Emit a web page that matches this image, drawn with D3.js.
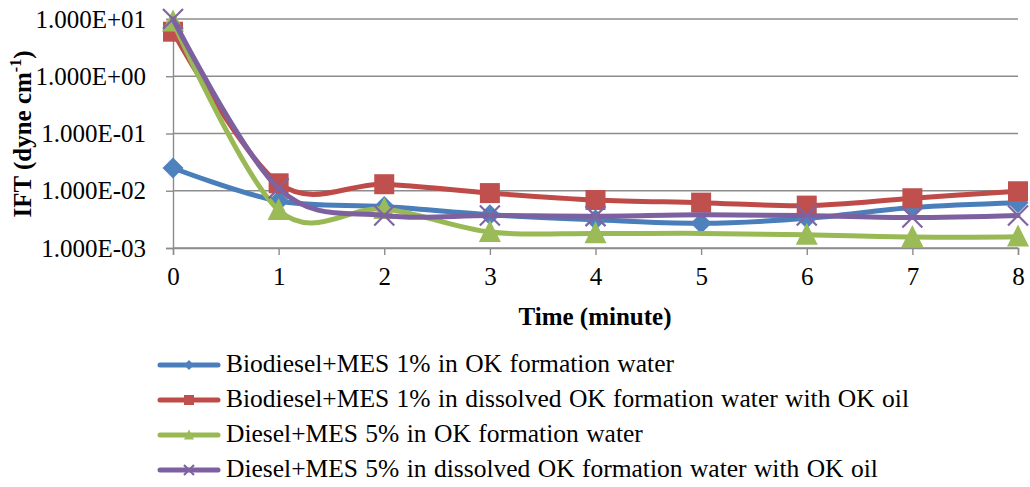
<!DOCTYPE html>
<html>
<head>
<meta charset="utf-8">
<script src="https://cdn.jsdelivr.net/npm/d3@7"></script>
<style>
  html, body { margin: 0; padding: 0; background: #fff; }
  svg { display: block; }
</style>
</head>
<body>
<svg id="chart" width="1030" height="487" font-family="Times New Roman"></svg>
<script>
// ---- data ----
const times = [0, 1, 2, 3, 4, 5, 6, 7, 8];
const seriesNames = [
  "Biodiesel+MES 1% in OK formation water",
  "Biodiesel+MES 1% in dissolved OK formation water with OK oil",
  "Diesel+MES 5% in OK formation water",
  "Diesel+MES 5% in dissolved OK formation water with OK oil"
];
const biodieselFW   = [0.025, 0.0066, 0.0053, 0.0038, 0.0031, 0.0027, 0.0033, 0.0051, 0.0062];
const biodieselOil  = [6.0, 0.0135, 0.013, 0.0091, 0.0069, 0.0062, 0.0055, 0.0074, 0.0098];
const dieselFW      = [9.0, 0.0046, 0.0048, 0.0019, 0.0018, 0.0018, 0.0017, 0.00155, 0.00158];
const dieselOil     = [10.0, 0.011, 0.0037, 0.0037, 0.0036, 0.0038, 0.0037, 0.0034, 0.0037];
const markerShown = [
  [1,1,1,1,1,1,1,1,1],
  [1,1,1,1,1,1,1,1,1],
  [1,1,1,1,1,0,1,1,1],
  [1,1,1,1,1,0,1,1,1]
];
const xTicks = [0, 1, 2, 3, 4, 5, 6, 7, 8];
const yTicks = [1e-3, 1e-2, 1e-1, 1e0, 1e1];
const yTickLabels = ["1.000E-03", "1.000E-02", "1.000E-01", "1.000E+00", "1.000E+01"];
const xTitle = "Time (minute)";

// ---- styles ----
const FONT = "Times New Roman";
const colors = ["#4A7EBB", "#BE4B48", "#98B954", "#7D60A0"];
const fills  = ["#4F81BD", "#C0504D", "#9BBB59", "#8064A2"];
const shapes = ["diamond", "square", "triangle", "x"];
const allSeries = [biodieselFW, biodieselOil, dieselFW, dieselOil];

const svg = d3.select("#chart");
const x = d3.scaleLinear().domain([0, 8]).range([173, 1018]);
const y = d3.scaleLog().domain([1e-3, 1e1]).range([248, 19]);
const grid = "#8C8C8C";

function txt(sel, size, bold) {
  return sel.attr("font-family", FONT).attr("font-size", size)
    .attr("font-weight", bold ? "bold" : null).attr("fill", "#000");
}

// gridlines
svg.append("g").selectAll("line").data(yTicks).join("line")
  .attr("x1", x(0)).attr("x2", x(8))
  .attr("y1", d => y(d)).attr("y2", d => y(d))
  .attr("stroke", grid).attr("stroke-width", 1.4);

// y axis
const yAxis = svg.append("g").attr("transform", `translate(${x(0)},0)`)
  .call(d3.axisLeft(y).tickValues(yTicks)
    .tickFormat((d, i) => yTickLabels[i]).tickSize(7).tickPadding(20));
yAxis.attr("font-family", FONT).attr("font-size", 25);
yAxis.select(".domain").attr("stroke", grid).attr("stroke-width", 1.4);
yAxis.selectAll(".tick line").attr("stroke", grid).attr("stroke-width", 1.4);
txt(yAxis.selectAll(".tick text"), 25, false);

// x axis
const xAxis = svg.append("g").attr("transform", `translate(0,${y(1e-3)})`)
  .call(d3.axisBottom(x).tickValues(xTicks).tickFormat(d3.format("d")).tickSize(7).tickPadding(12));
xAxis.attr("font-family", FONT).attr("font-size", 25);
xAxis.select(".domain").attr("stroke", grid).attr("stroke-width", 1.4);
xAxis.selectAll(".tick line").attr("stroke", grid).attr("stroke-width", 1.4);
txt(xAxis.selectAll(".tick text"), 25, false);

// titles
txt(svg.append("text"), 25, true).attr("x", 595).attr("y", 325).attr("text-anchor", "middle").text(xTitle);
const yt = txt(svg.append("text"), 25, true).attr("transform", "translate(31,134) rotate(-90)")
  .attr("text-anchor", "middle");
yt.append("tspan").text("IFT (dyne cm");
yt.append("tspan").attr("font-size", 16).attr("dy", -10).text("-1");
yt.append("tspan").attr("dy", 10).text(")");

// marker drawing
function marker(g, shape, cx, cy, s, i) {
  if (shape === "diamond") {
    g.append("path").attr("d", `M${cx},${cy - s}L${cx + s},${cy}L${cx},${cy + s}L${cx - s},${cy}Z`)
      .attr("fill", fills[i]);
  } else if (shape === "square") {
    g.append("rect").attr("x", cx - s).attr("y", cy - s).attr("width", 2 * s).attr("height", 2 * s)
      .attr("fill", fills[i]);
  } else if (shape === "triangle") {
    g.append("path").attr("d", `M${cx},${cy - s * 1.1}L${cx + s},${cy + s * 0.9}L${cx - s},${cy + s * 0.9}Z`)
      .attr("fill", fills[i]);
  } else {
    g.append("path").attr("d", `M${cx - s},${cy - s}L${cx + s},${cy + s}M${cx + s},${cy - s}L${cx - s},${cy + s}`)
      .attr("stroke", fills[i]).attr("stroke-width", 2.2).attr("fill", "none");
  }
}
const sizes = [10.5, 10, 11, 10];

const line = d3.line().x((d, i) => x(times[i])).y(d => y(d)).curve(d3.curveCardinal.tension(0));
allSeries.forEach((vals, si) => {
  const g = svg.append("g");
  g.append("path").attr("d", line(vals)).attr("fill", "none")
    .attr("stroke", colors[si]).attr("stroke-width", 5).attr("stroke-linejoin", "round").attr("stroke-linecap", "round");
  vals.forEach((v, i) => {
    if (markerShown[si][i]) marker(g, shapes[si], x(times[i]), y(v), sizes[si], si);
  });
});

// legend
const legY = [365, 400, 435, 470];
const legTexts = [];
seriesNames.forEach((name, si) => {
  const g = svg.append("g");
  g.append("line").attr("x1", 160).attr("x2", 218).attr("y1", legY[si]).attr("y2", legY[si])
    .attr("stroke", colors[si]).attr("stroke-width", 5).attr("stroke-linecap", "round");
  marker(g, shapes[si], 189, legY[si], 5, si);
  legTexts.push(txt(g.append("text"), 25.5, false).attr("x", 226).attr("y", legY[si] + 7).text(name));
});
// word spacing so the longest entry spans like the reference (~683px)
const natural = legTexts[1].node().getComputedTextLength();
const spaces = seriesNames[1].split(" ").length - 1;
const ws = Math.max(0, Math.min(8, (683 - natural) / spaces));
legTexts.forEach(t => t.attr("word-spacing", ws));
</script>
</body>
</html>
